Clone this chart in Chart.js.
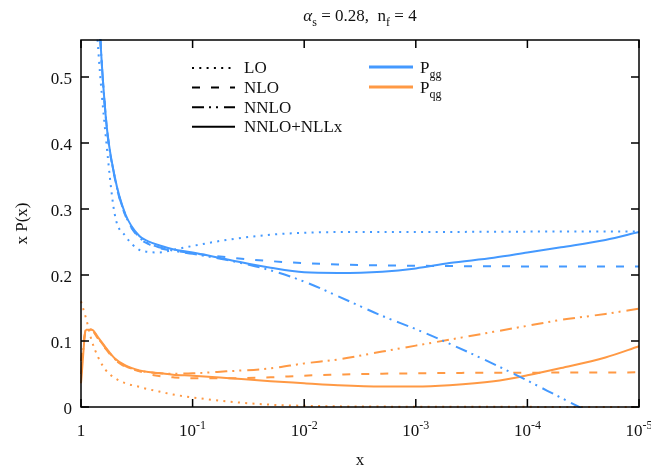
<!DOCTYPE html>
<html>
<head>
<meta charset="utf-8">
<script src="https://cdn.jsdelivr.net/npm/chart.js@4"></script>
<style>
  html, body { margin: 0; padding: 0; background: #fff; }
  canvas { display: block; }
</style>
</head>
<body>
<canvas id="chart" width="651" height="473"></canvas>
<script>
// x grid (log scale, shown reversed)
const xs = [1, 0.9, 0.8, 0.7, 0.6, 0.5, 0.4, 0.3, 0.25, 0.2, 0.15, 0.1, 0.05, 0.02, 0.01,
  0.005, 0.002, 0.001, 5e-4, 2e-4, 1e-4, 5e-5, 2e-5, 1e-5];

// P_gg
const pggLO   = [null, null, 0.70, 0.54, 0.41, 0.293, 0.259, 0.238, 0.235, 0.234, 0.238, 0.244, 0.253, 0.261, 0.264, 0.265, 0.265, 0.265, 0.2652, 0.2655, 0.2657, 0.266, 0.266, 0.266];
const pggNLO  = [null, null, 0.90, 0.62, 0.44, 0.348, 0.290, 0.256, 0.247, 0.241, 0.237, 0.233, 0.227, 0.221, 0.218, 0.216, 0.2145, 0.214, 0.2135, 0.2132, 0.213, 0.213, 0.213, 0.213];
const pggNNLO = [null, null, 0.90, 0.62, 0.44, 0.349, 0.291, 0.257, 0.248, 0.242, 0.237, 0.232, 0.223, 0.207, 0.190, 0.168, 0.138, 0.118, 0.096, 0.065, 0.040, 0.014, -0.02, -0.045];
const pggNLLx = [null, null, 0.90, 0.62, 0.44, 0.350, 0.292, 0.259, 0.251, 0.245, 0.239, 0.234, 0.224, 0.211, 0.204, 0.203, 0.205, 0.210, 0.218, 0.226, 0.234, 0.242, 0.253, 0.265];

// P_qg
const pqgLO   = [0.16, 0.134, 0.100, 0.075, 0.056, 0.044, 0.036, 0.0305, 0.027, 0.0235, 0.019, 0.0145, 0.0085, 0.0035, 0.0018, 0.001, 0.0006, 0.0004, 0.0003, 0.0002, 0.0002, 0.0001, 0.0001, 0.0001];
const pqgNLO  = [0.07, 0.115, 0.115, 0.103, 0.088, 0.072, 0.061, 0.054, 0.050, 0.047, 0.045, 0.0435, 0.0435, 0.045, 0.0475, 0.049, 0.0505, 0.051, 0.0515, 0.052, 0.052, 0.0522, 0.0523, 0.0525];
const pqgNNLO = [0.05, 0.118, 0.117, 0.104, 0.089, 0.073, 0.062, 0.055, 0.053, 0.051, 0.0505, 0.051, 0.054, 0.0585, 0.066, 0.072, 0.084, 0.093, 0.102, 0.114, 0.123, 0.132, 0.141, 0.149];
const pqgNLLx = [0.036, 0.117, 0.117, 0.105, 0.090, 0.074, 0.063, 0.0555, 0.053, 0.0515, 0.049, 0.0475, 0.044, 0.039, 0.036, 0.033, 0.031, 0.031, 0.033, 0.039, 0.048, 0.059, 0.075, 0.092];

// ticks
const xTicks = [1, 1e-1, 1e-2, 1e-3, 1e-4, 1e-5];
const yTicks = [0, 0.1, 0.2, 0.3, 0.4, 0.5];

const orderLabels = ['LO', 'NLO', 'NNLO', 'NNLO+NLLx'];
const channelLabels = ['gg', 'qg'];

const BLUE = '#4499ff';
const ORANGE = '#ff9944';
const DASHES = [[2, 5.3], [8, 11], [12, 5, 2, 5, 2, 6], []];
const FONT = '"Liberation Serif", "Times New Roman", serif';

function series(arr) {
  return xs.map((x, i) => ({ x: x, y: arr[i] }));
}

function makeSet(label, arr, color, order) {
  return {
    label: label,
    data: series(arr),
    borderColor: color,
    borderWidth: 2,
    borderDash: DASHES[order],
    pointRadius: 0,
    fill: false,
    cubicInterpolationMode: 'monotone',
    clip: 1
  };
}

// draws text pieces with sub/superscripts, returns width
function richText(ctx, parts, x, y, align) {
  const size = p => (p.sub || p.sup) ? 12 : 17;
  const font = p => (p.italic ? 'italic ' : '') + size(p) + 'px ' + FONT;
  let w = 0;
  parts.forEach(p => { ctx.font = font(p); w += ctx.measureText(p.t).width; });
  let cx = align === 'center' ? x - w / 2 : (align === 'right' ? x - w : x);
  ctx.textAlign = 'left';
  ctx.textBaseline = 'alphabetic';
  parts.forEach(p => {
    ctx.font = font(p);
    const dy = p.sub ? 5 : (p.sup ? -7 : 0);
    ctx.fillText(p.t, cx, y + dy);
    cx += ctx.measureText(p.t).width;
  });
  return w;
}

const framePlugin = {
  id: 'frame',
  afterDraw(chart) {
    const ctx = chart.ctx;
    const a = chart.chartArea;
    const xs_ = chart.scales.x;
    const ys_ = chart.scales.y;
    ctx.save();
    ctx.strokeStyle = '#000';
    ctx.lineWidth = 1.5;
    ctx.setLineDash([]);
    ctx.strokeRect(a.left, a.top, a.right - a.left, a.bottom - a.top);

    const tl = 8;
    ctx.beginPath();
    xTicks.forEach(v => {
      const px = xs_.getPixelForValue(v);
      ctx.moveTo(px, a.bottom); ctx.lineTo(px, a.bottom - tl);
      ctx.moveTo(px, a.top); ctx.lineTo(px, a.top + tl);
    });
    yTicks.forEach(v => {
      const py = ys_.getPixelForValue(v);
      ctx.moveTo(a.left, py); ctx.lineTo(a.left + tl, py);
      ctx.moveTo(a.right, py); ctx.lineTo(a.right - tl, py);
    });
    ctx.stroke();

    ctx.fillStyle = '#111';
    // y tick labels
    ctx.font = '17px ' + FONT;
    ctx.textAlign = 'right';
    ctx.textBaseline = 'middle';
    yTicks.forEach(v => {
      ctx.fillText(String(v), a.left - 9, ys_.getPixelForValue(v) + 3);
    });
    // x tick labels
    xTicks.forEach(v => {
      const px = xs_.getPixelForValue(v);
      const e = Math.round(Math.log10(v));
      const parts = e === 0 ? [{ t: '1' }] : [{ t: '10' }, { t: String(e), sup: true }];
      richText(ctx, parts, px, a.bottom + 29, 'center');
    });

    // axis titles
    ctx.font = '17px ' + FONT;
    ctx.textAlign = 'center';
    ctx.textBaseline = 'alphabetic';
    ctx.fillText('x', (a.left + a.right) / 2, a.bottom + 58);
    ctx.save();
    ctx.translate(27, (a.top + a.bottom) / 2);
    ctx.rotate(-Math.PI / 2);
    ctx.fillText('x P(x)', 0, 0);
    ctx.restore();

    // title
    richText(ctx, [
      { t: 'α', italic: true }, { t: 's', sub: true }, { t: ' = 0.28,  n' },
      { t: 'f', sub: true }, { t: ' = 4' }
    ], (a.left + a.right) / 2, 21, 'center');

    // legend
    ctx.lineWidth = 2;
    ctx.strokeStyle = '#000';
    orderLabels.forEach((lab, i) => {
      const y = 68 + i * 19.6;
      ctx.setLineDash(DASHES[i]);
      ctx.beginPath();
      ctx.moveTo(192, y); ctx.lineTo(235, y);
      ctx.stroke();
      ctx.setLineDash([]);
      ctx.font = '17px ' + FONT;
      ctx.textAlign = 'left';
      ctx.textBaseline = 'middle';
      ctx.fillText(lab, 244, y + 1);
    });
    ctx.lineWidth = 3;
    [BLUE, ORANGE].forEach((c, i) => {
      const y = 67 + i * 20;
      ctx.strokeStyle = c;
      ctx.beginPath();
      ctx.moveTo(369, y); ctx.lineTo(413, y);
      ctx.stroke();
      richText(ctx, [{ t: 'P' }, { t: channelLabels[i], sub: true }], 420, y + 6, 'left');
    });
    ctx.restore();
  }
};

new Chart(document.getElementById('chart'), {
  type: 'line',
  data: {
    datasets: [
      makeSet('Pgg LO', pggLO, BLUE, 0),
      makeSet('Pgg NLO', pggNLO, BLUE, 1),
      makeSet('Pgg NNLO', pggNNLO, BLUE, 2),
      makeSet('Pgg NNLO+NLLx', pggNLLx, BLUE, 3),
      makeSet('Pqg LO', pqgLO, ORANGE, 0),
      makeSet('Pqg NLO', pqgNLO, ORANGE, 1),
      makeSet('Pqg NNLO', pqgNNLO, ORANGE, 2),
      makeSet('Pqg NNLO+NLLx', pqgNLLx, ORANGE, 3)
    ]
  },
  options: {
    responsive: false,
    animation: false,
    devicePixelRatio: 1,
    layout: { padding: { left: 81, right: 12, top: 40, bottom: 66 } },
    scales: {
      x: { type: 'logarithmic', min: 1e-5, max: 1, reverse: true, display: false },
      y: { type: 'linear', min: 0, max: 0.556, display: false }
    },
    plugins: {
      legend: { display: false },
      tooltip: { enabled: false }
    }
  },
  plugins: [framePlugin]
});
</script>
</body>
</html>
